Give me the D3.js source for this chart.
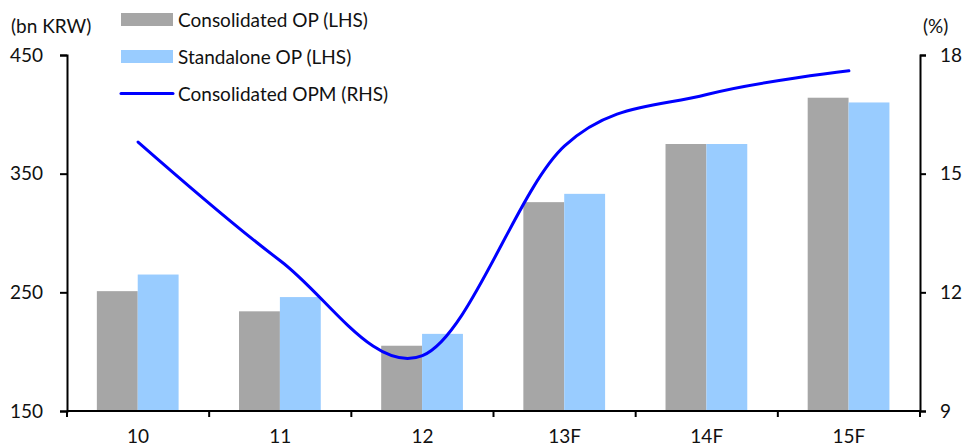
<!DOCTYPE html>
<html>
<head>
<meta charset="utf-8">
<script src="https://cdn.jsdelivr.net/npm/d3@7"></script>
<style>
  html, body { margin: 0; padding: 0; background: #fff; }
  svg { display: block; }
  text { font-family: Lato, "Open Sans", sans-serif; font-size: 19px; fill: #111; }
</style>
</head>
<body>
<svg id="chart" width="973" height="446"></svg>
<script>
// Operating profit (bn KRW) and operating profit margin (%)
const categories = ["10", "11", "12", "13F", "14F", "15F"];
const consolidatedOP = [251, 234, 205, 326, 375, 414];
const standaloneOP = [265, 246, 215, 333, 375, 410];
const consolidatedOPM = [15.8, 12.8, 10.4, 15.7, 17.0, 17.6];
const leftTicks = [150, 250, 350, 450];
const rightTicks = [9, 12, 15, 18];

const svg = d3.select("#chart");
const plotLeft = 67, plotRight = 920, plotTop = 55, plotBottom = 411;

const x0 = d3.scaleBand().domain(categories).range([plotLeft, plotRight]).padding(0);
const bw = x0.bandwidth();
const x1 = d3.scaleBand().domain(["cons", "stand"]).range([bw * 0.21, bw * 0.785]).padding(0);
const yL = d3.scaleLinear().domain([150, 450]).range([plotBottom, plotTop]);
const yR = d3.scaleLinear().domain([9, 18]).range([plotBottom, plotTop]);

const colors = { cons: "#a6a6a6", stand: "#99ccff" };

// Bars
const groups = svg.append("g").selectAll("g")
  .data(categories.map((c, i) => ({ c, cons: consolidatedOP[i], stand: standaloneOP[i] })))
  .join("g")
  .attr("transform", d => `translate(${x0(d.c)},0)`);

groups.selectAll("rect")
  .data(d => ["cons", "stand"].map(k => ({ k, v: d[k] })))
  .join("rect")
  .attr("x", d => x1(d.k))
  .attr("width", x1.bandwidth())
  .attr("y", d => yL(d.v))
  .attr("height", d => yL(150) - yL(d.v))
  .attr("fill", d => colors[d.k]);

// Margin line
const line = d3.line()
  .x((d, i) => x0(categories[i]) + bw / 2)
  .y(d => yR(d))
  .curve(d3.curveCardinal.tension(0));

svg.append("path")
  .datum(consolidatedOPM)
  .attr("d", line)
  .attr("fill", "none")
  .attr("stroke", "#0000ff")
  .attr("stroke-width", 3)
  .attr("stroke-linecap", "round");

// Axes
const axisStyle = g => {
  g.select(".domain").attr("stroke", "#000").attr("stroke-width", 2);
  g.selectAll(".tick line").attr("stroke", "#000").attr("stroke-width", 2);
  g.selectAll(".tick text").attr("fill", "#111").style("font-size", "19px");
};

svg.append("g")
  .attr("transform", `translate(${plotLeft},0)`)
  .call(d3.axisLeft(yL).tickValues(leftTicks).tickSize(7).tickSizeOuter(7).tickPadding(18))
  .call(axisStyle)
  .call(g => g.selectAll("text").attr("text-anchor", "start").attr("x", -57));

svg.append("g")
  .attr("transform", `translate(${plotRight},0)`)
  .call(d3.axisRight(yR).tickValues(rightTicks).tickSize(6).tickSizeOuter(6).tickPadding(14))
  .call(axisStyle);

// Category axis: ticks between groups
const xAxis = svg.append("g").attr("transform", `translate(0,${plotBottom})`);
xAxis.append("line")
  .attr("x1", plotLeft).attr("x2", plotRight)
  .attr("stroke", "#000").attr("stroke-width", 2);
xAxis.selectAll("line.sep")
  .data(categories.concat(["end"]))
  .join("line")
  .attr("class", "sep")
  .attr("x1", (d, i) => plotLeft + i * bw)
  .attr("x2", (d, i) => plotLeft + i * bw)
  .attr("y1", 0).attr("y2", 6)
  .attr("stroke", "#000").attr("stroke-width", 2);
xAxis.selectAll("text")
  .data(categories)
  .join("text")
  .attr("x", d => x0(d) + bw / 2)
  .attr("y", 32)
  .attr("text-anchor", "middle")
  .text(d => d);

// Axis units
svg.append("text").attr("x", 11).attr("y", 33).text("(bn KRW)");
svg.append("text").attr("x", 923).attr("y", 33).text("(%)");

// Legend
const legend = [
  { label: "Consolidated OP (LHS)", type: "rect", color: colors.cons },
  { label: "Standalone OP (LHS)", type: "rect", color: colors.stand },
  { label: "Consolidated OPM (RHS)", type: "line", color: "#0000ff" }
];
const lg = svg.append("g").selectAll("g").data(legend).join("g")
  .attr("transform", (d, i) => `translate(121,${19.5 + i * 37})`);
lg.filter(d => d.type === "rect").append("rect")
  .attr("x", 0).attr("y", -6.5).attr("width", 52).attr("height", 13)
  .attr("fill", d => d.color);
lg.filter(d => d.type === "line").append("line")
  .attr("x1", 0).attr("x2", 52).attr("y1", 0).attr("y2", 0)
  .attr("stroke", d => d.color).attr("stroke-width", 3).attr("stroke-linecap", "round");
lg.append("text").attr("x", 57).attr("y", 7).text(d => d.label);
</script>
</body>
</html>
